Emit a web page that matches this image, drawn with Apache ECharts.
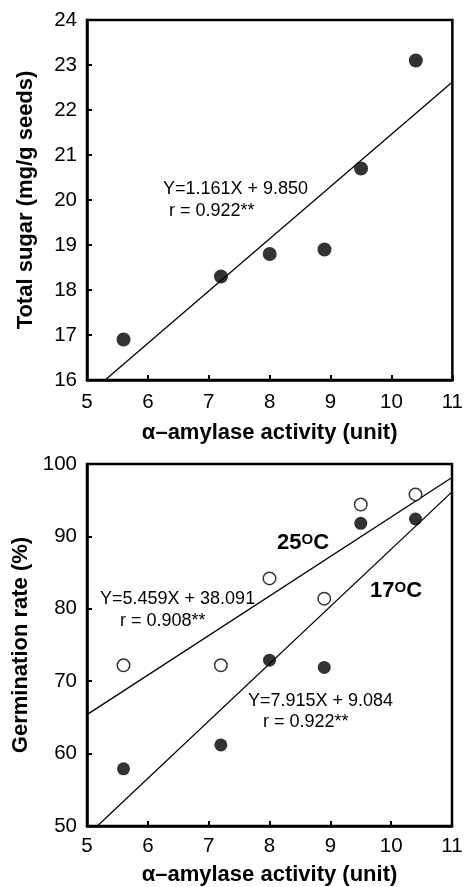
<!DOCTYPE html>
<html>
<head>
<meta charset="utf-8">
<script src="https://cdn.jsdelivr.net/npm/echarts@6/dist/echarts.min.js"></script>
<style>
html,body{margin:0;padding:0;background:#fff;}
#c{width:466px;height:887px;}
</style>
</head>
<body>
<div id="c"></div>
<script>
// ---- data ----
var amylaseTop = [5.6, 7.2, 8.0, 8.9, 9.5, 10.4];
var totalSugar = [16.9, 18.3, 18.8, 18.9, 20.7, 23.1];
var fitTopX = [5.0, 11.0];
var fitTopY = [15.655, 22.621];

var amylaseBottom = [5.6, 7.2, 8.0, 8.9, 9.5, 10.4];
var germ25 = [72.2, 72.2, 84.2, 81.4, 94.4, 95.8];
var germ17 = [57.9, 61.2, 72.9, 71.9, 91.8, 92.4];
var fit25X = [5.0, 11.0];
var fit25Y = [65.386, 98.140];
var fit17X = [5.0, 11.0];
var fit17Y = [48.659, 96.149];

var xTicks = [5, 6, 7, 8, 9, 10, 11];
var yTicksTop = [16, 17, 18, 19, 20, 21, 22, 23, 24];
var yTicksBottom = [50, 60, 70, 80, 90, 100];

function pairs(xs, ys){ return xs.map(function(x,i){ return [x, ys[i]]; }); }

var FONT = "'Liberation Sans', Arial, Helvetica, sans-serif";
var tickLabel = {color:'#000', fontSize:20.5, fontFamily:FONT};
var nameStyle = {color:'#000', fontSize:22, fontWeight:'bold', fontFamily:FONT};

function xAxisDef(idx, gap, margin){
  return {
    type:'value', gridIndex:idx, min:xTicks[0], max:xTicks[xTicks.length-1], interval:1,
    name:'α–amylase activity (unit)', nameLocation:'middle', nameGap:gap, nameTextStyle:nameStyle,
    axisLine:{show:true, lineStyle:{color:'#000', width:2.5}},
    axisTick:{show:true, inside:true, length:5, lineStyle:{color:'#000', width:2}},
    axisLabel:Object.assign({margin:margin}, tickLabel),
    splitLine:{show:false}
  };
}
function yAxisDef(idx, ticks, name, gap){
  return {
    type:'value', gridIndex:idx, min:ticks[0], max:ticks[ticks.length-1], interval:ticks[1]-ticks[0],
    name:name, nameLocation:'middle', nameGap:gap, nameTextStyle:nameStyle,
    axisLine:{show:true, lineStyle:{color:'#000', width:2.5}},
    axisTick:{show:true, inside:true, length:5, lineStyle:{color:'#000', width:2}},
    axisLabel:Object.assign({margin:10}, tickLabel),
    splitLine:{show:false}
  };
}

var chart = echarts.init(document.getElementById('c'), null, {renderer:'canvas'});
var annFont = '18px ' + FONT;
var degRich = {
  a:{fontSize:22, fontWeight:'bold', fontFamily:FONT, fill:'#000', verticalAlign:'bottom'},
  s:{fontSize:15, fontWeight:'bold', fontFamily:FONT, fill:'#000', verticalAlign:'top'}
};
chart.setOption({
  animation:false,
  backgroundColor:'#fff',
  grid:[
    {left:87, right:12, top:20, height:360, show:true, borderColor:'#000', borderWidth:2.5},
    {left:87, right:14, top:464, height:363, show:true, borderColor:'#000', borderWidth:2.5}
  ],
  xAxis:[ xAxisDef(0, 42, 12), xAxisDef(1, 38, 10) ],
  yAxis:[ yAxisDef(0, yTicksTop, 'Total sugar (mg/g seeds)', 50), yAxisDef(1, yTicksBottom, 'Germination rate (%)', 52) ],
  series:[
    {type:'line', xAxisIndex:0, yAxisIndex:0, data:pairs(fitTopX, fitTopY), showSymbol:false, clip:true,
     lineStyle:{color:'#000', width:1.3}, z:2},
    {type:'scatter', xAxisIndex:0, yAxisIndex:0, data:pairs(amylaseTop, totalSugar), symbol:'circle', symbolSize:14,
     itemStyle:{color:'#000'}, z:3},
    {type:'line', xAxisIndex:1, yAxisIndex:1, data:pairs(fit25X, fit25Y), showSymbol:false, clip:true,
     lineStyle:{color:'#000', width:1.3}, z:2},
    {type:'line', xAxisIndex:1, yAxisIndex:1, data:pairs(fit17X, fit17Y), showSymbol:false, clip:true,
     lineStyle:{color:'#000', width:1.3}, z:2},
    {type:'scatter', xAxisIndex:1, yAxisIndex:1, data:pairs(amylaseBottom, germ25), symbol:'circle', symbolSize:12.5,
     itemStyle:{color:'#fff', borderColor:'#000', borderWidth:1.5}, z:3},
    {type:'scatter', xAxisIndex:1, yAxisIndex:1, data:pairs(amylaseBottom, germ17), symbol:'circle', symbolSize:13,
     itemStyle:{color:'#000'}, z:3}
  ],
  graphic:[
    {type:'text', left:163, top:180, z:10, style:{text:'Y=1.161X + 9.850', font:annFont, fill:'#000'}},
    {type:'text', left:169, top:202, z:10, style:{text:'r = 0.922**', font:annFont, fill:'#000'}},
    {type:'text', left:100, top:590, z:10, style:{text:'Y=5.459X + 38.091', font:annFont, fill:'#000'}},
    {type:'text', left:120, top:612, z:10, style:{text:'r = 0.908**', font:annFont, fill:'#000'}},
    {type:'text', left:248, top:692, z:10, style:{text:'Y=7.915X + 9.084', font:annFont, fill:'#000'}},
    {type:'text', left:263, top:713, z:10, style:{text:'r = 0.922**', font:annFont, fill:'#000'}},
    {type:'text', left:277, top:532, z:10, style:{text:'{a|25}{s|O}{a|C}', fill:'#000', rich:degRich}},
    {type:'text', left:370, top:580, z:10, style:{text:'{a|17}{s|O}{a|C}', fill:'#000', rich:degRich}}
  ]
});
</script>
</body>
</html>
